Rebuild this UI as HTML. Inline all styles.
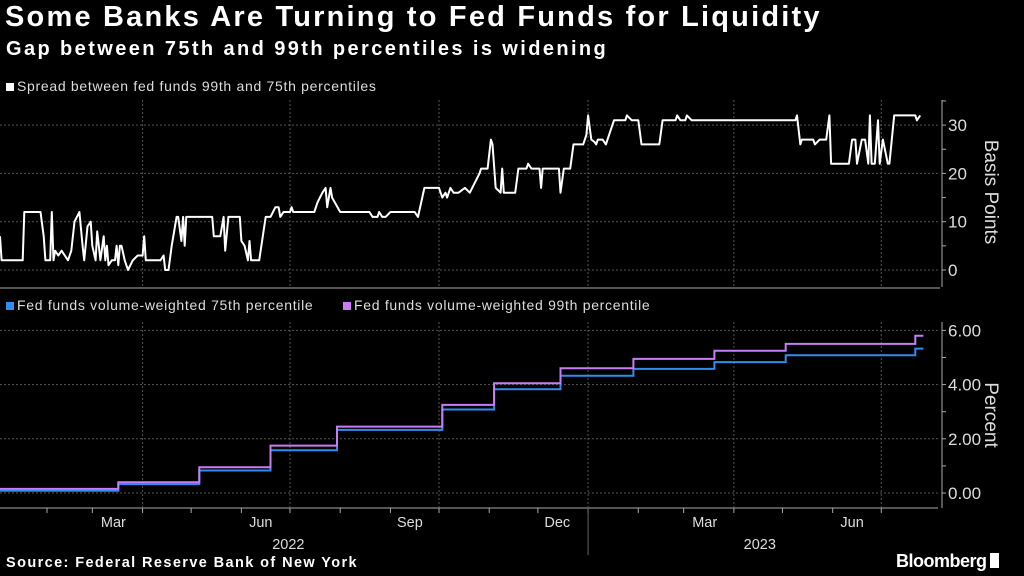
<!DOCTYPE html>
<html><head><meta charset="utf-8"><style>
body{margin:0;background:#000;width:1024px;height:576px;overflow:hidden;font-family:"Liberation Sans",sans-serif;color:#fff}
.t{position:absolute;white-space:nowrap}
</style></head><body>
<div class="t" style="left:5px;top:1px;font-size:29px;font-weight:bold;letter-spacing:2.2px">Some Banks Are Turning to Fed Funds for Liquidity</div>
<div class="t" style="left:6px;top:38px;font-size:20px;font-weight:bold;letter-spacing:2.4px">Gap between 75th and 99th percentiles is widening</div>
<div class="t" style="left:6px;top:78px;font-size:14px;color:#ddd;letter-spacing:0.7px"><span style="display:inline-block;width:8px;height:8px;background:#fff;margin-right:3px"></span>Spread between fed funds 99th and 75th percentiles</div>
<div class="t" style="left:6px;top:297px;font-size:14px;color:#ddd;letter-spacing:0.7px"><span style="display:inline-block;width:8px;height:8px;background:#2f8cf0;margin-right:3px"></span>Fed funds volume-weighted 75th percentile</div>
<div class="t" style="left:343px;top:297px;font-size:14px;color:#ddd;letter-spacing:0.7px"><span style="display:inline-block;width:8px;height:8px;background:#c77df5;margin-right:3px"></span>Fed funds volume-weighted 99th percentile</div>
<div class="t" style="left:6px;top:555px;font-size:14.5px;font-weight:bold;letter-spacing:1.4px">Source: Federal Reserve Bank of New York</div>
<div class="t" style="left:896px;top:551px;font-size:18px;font-weight:bold;letter-spacing:-0.5px">Bloomberg<span style="display:inline-block;width:9px;height:15px;background:#fff;margin-left:3px;vertical-align:-1px"></span></div>
<svg id="c" width="1024" height="576" style="position:absolute;left:0;top:0"></svg>
<script>
const spreadDays=[0,1,14,15,25,27,28,31,32,33,34,36,38,40,42,44,46,49,51,52,54,56,57,59,60,62,64,65,66,67,69,71,72,73,74,75,77,79,82,85,88,89,90,99,101,102,104,106,109,110,112,113,114,115,116,131,132,136,138,139,141,148,149,151,153,154,155,160,164,167,170,172,173,175,179,180,181,194,196,199,201,202,204,205,210,228,230,233,234,236,238,241,256,258,262,271,273,275,276,278,280,283,287,290,296,297,301,303,304,306,309,310,311,318,320,325,326,328,333,334,335,345,346,348,352,354,360,362,363,365,367,368,369,372,374,376,379,386,387,390,394,396,407,409,417,418,420,423,424,427,491,492,494,495,502,503,506,510,512,513,524,526,528,529,532,534,536,537,538,540,542,543,545,548,549,552,565,566,568];
const spreadVals=[7,2,2,12,12,7,2,2,12,2,4,3,4,3,2,4,10,12,5,2,9,10,5,2,8,2,7,2,5,1,2,2,5,1,5,5,2,0,2,3,3,7,2,2,3,0,0,5,11,11,6,11,5,11,11,11,7,7,11,4,11,11,6,5,2,6,2,2,11,11,13,13,11,12,12,13,12,12,14,16,17,13,17,15,12,12,11,11,12,11,11,12,12,11,17,17,15,16,15,17,16,16,17,16,20,21,21,27,26,17,16,21,16,16,21,21,22,21,21,17,21,21,16,21,21,26,26,28,32,27,26.5,26,27,27,26,28,31,31,32,31,31,26,26,31,31,32,31,31,32,31,31,32,26,27,27,26,27,27,32,22,22,27,27,22,27,27,22,32,22,22,31,22,27,22,22,32,32,31,32];
const stepDays=[0,73,123,167,208,273,305,346,391,441,485,565,570];
const p75Levels=[0.08,0.33,0.83,1.58,2.33,3.08,3.83,4.33,4.58,4.83,5.08,5.33];
const p99Levels=[0.15,0.40,0.95,1.75,2.45,3.25,4.05,4.60,4.95,5.25,5.50,5.80];
const spreadTicks=[0,10,20,30];
const pctTicks=[0,2,4,6];
const pctTickLabels=["0.00","2.00","4.00","6.00"];
const monthLabels=["Mar","Jun","Sep","Dec","Mar","Jun"];
const monthLabelDays=[70,161,253,344,435,526];
const monthTickDays=[29,57,88,118,149,179,210,241,271,302,332,363,394,422,453,483,514,544];
const gridDays=[88,179,271,363,453,544];
const yearLabels=["2022","2023"];
const yearLabelDays=[178,469];
const yearDivDay=363;
const X=d=>d*1.62;
const Y1=v=>270-v*4.83;
const Y2=v=>493-v*27.1;
const s=document.getElementById('c');const NS='http://www.w3.org/2000/svg';
function el(t,a,p){const e=document.createElementNS(NS,t);for(const k in a)e.setAttribute(k,a[k]);(p||s).appendChild(e);return e;}
gridDays.forEach(d=>{
const g1=el('line',{x1:X(d),x2:X(d),y1:100,y2:287,stroke:'#555','stroke-dasharray':'2,2'});


const g2=el('line',{x1:X(d),x2:X(d),y1:322,y2:507,stroke:'#555','stroke-dasharray':'2,2'});


});
spreadTicks.forEach(v=>{
const g=el('line',{x1:0,x2:940,y1:Y1(v),y2:Y1(v),stroke:'#555','stroke-dasharray':'2,2'});


el('line',{x1:942,x2:946,y1:Y1(v),y2:Y1(v),stroke:'#aaa'});
const t=el('text',{x:948,y:Y1(v)+6,fill:'#ddd','font-size':17});t.textContent=v;


el('line',{x1:942,x2:946,y1:Y1(v+5),y2:Y1(v+5),stroke:'#aaa'});
});
el('line',{x1:942,x2:942,y1:100,y2:287,stroke:'#aaa'});
el('line',{x1:0,x2:940,y1:288,y2:288,stroke:'#555','stroke-width':2});
pctTicks.forEach((v,i)=>{
const g=el('line',{x1:0,x2:940,y1:Y2(v),y2:Y2(v),stroke:'#555','stroke-dasharray':'2,2'});


el('line',{x1:942,x2:946,y1:Y2(v),y2:Y2(v),stroke:'#aaa'});
if(i<pctTicks.length-1)el('line',{x1:942,x2:946,y1:Y2(v+1),y2:Y2(v+1),stroke:'#aaa'});
const t=el('text',{x:948,y:Y2(v)+6,fill:'#ddd','font-size':17});t.textContent=pctTickLabels[i];


});
el('line',{x1:942,x2:942,y1:322,y2:508,stroke:'#aaa'});
el('line',{x1:0,x2:938,y1:508,y2:508,stroke:'#aaa'});
monthTickDays.forEach(d=>el('line',{x1:X(d),x2:X(d),y1:508,y2:513,stroke:'#aaa'}));
monthLabels.forEach((m,i)=>{const t=el('text',{x:X(monthLabelDays[i]),y:527,fill:'#ddd','font-size':14.5,'text-anchor':'middle'});t.textContent=m;

});
yearLabels.forEach((m,i)=>{const t=el('text',{x:X(yearLabelDays[i]),y:549,fill:'#ddd','font-size':14.5,'text-anchor':'middle'});t.textContent=m;

});
el('line',{x1:X(yearDivDay),x2:X(yearDivDay),y1:508,y2:555,stroke:'#666'});
const a1=el('text',{x:0,y:0,fill:'#ddd','font-size':19,transform:'translate(985,192) rotate(90)','text-anchor':'middle'});a1.textContent='Basis Points';


const a2=el('text',{x:0,y:0,fill:'#ddd','font-size':19,transform:'translate(985,415) rotate(90)','text-anchor':'middle'});a2.textContent='Percent';


let p=spreadDays.map((d,i)=>(i?'L':'M')+X(d).toFixed(1)+','+Y1(spreadVals[i]).toFixed(1)).join('');
const sl=el('path',{d:p,fill:'none',stroke:'#fff','stroke-width':2,'stroke-linejoin':'round'});


function step(levels){let d='';levels.forEach((v,i)=>{d+=(i?'L':'M')+X(stepDays[i]).toFixed(1)+','+Y2(v).toFixed(1)+'L'+X(stepDays[i+1]).toFixed(1)+','+Y2(v).toFixed(1);});return d;}
const l75=el('path',{d:step(p75Levels),fill:'none',stroke:'#2f8cf0','stroke-width':2});


const l99=el('path',{d:step(p99Levels),fill:'none',stroke:'#c77df5','stroke-width':2});


</script>
</body></html>
